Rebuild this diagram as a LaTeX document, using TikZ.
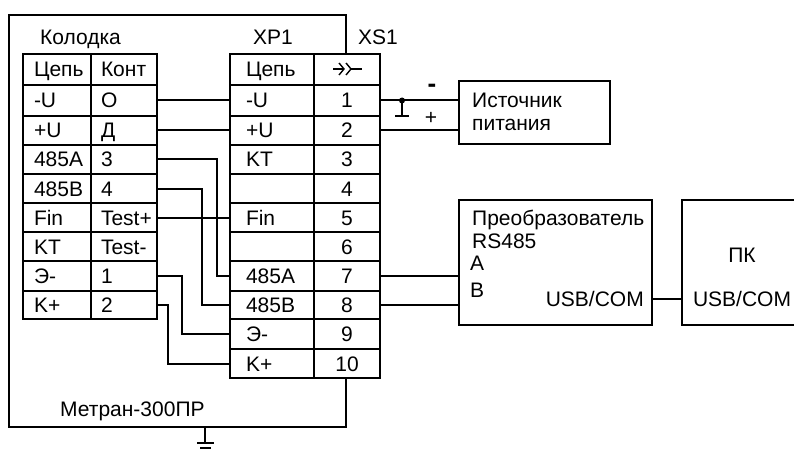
\documentclass[tikz,border=0pt]{standalone}
\usepackage{fontspec}
\setmainfont{Liberation Sans}
\usetikzlibrary{positioning}
\tikzset{
  wire/.style={line width=2pt},
  txt/.style={inner sep=0pt, anchor=base west},
  namecell/.style={draw, line width=2pt, outer sep=0pt, minimum height=#1, text height=15pt, text depth=0pt, align=left},
  numcell/.style={draw, line width=2pt, outer sep=0pt, minimum width=66pt, minimum height=#1, text height=15pt, text depth=0pt, align=center},
  box/.style={draw, line width=2pt, outer sep=0pt}
}
\begin{document}
\begin{tikzpicture}[x=1pt, y=-1pt, font=\fontsize{21}{24}\selectfont]
    \useasboundingbox (0,0) rectangle (794,449);
    % housing
    \coordinate (fr1) at (346,54);
    \coordinate (fr2) at (346,378);
    \coordinate (gnd) at (205,427);
    \draw[wire] (fr1) -- (346,15) -- (9,15) -- (9,427) -- (346,427) -- (fr2);
    \node[txt] (kolodka) at (40,45) {Колодка};
    \node[txt] (xp) at (253,45) {XP1};
    \node[txt] (xs) at (358,45) {XS1};
    \node[txt] (metran) at (60,416) {Метран-300ПР};
    % left table
    \foreach \n/\y/\h/\a/\b in {0/69.5/31/Цепь/Конт, 1/100.5/31/-U/О, 2/130.5/29/+U/Д, 3/159.5/29/485A/3, 4/188.5/29/485B/4, 5/217.5/29/Fin/Test+, 6/246.5/29/KT/Test-, 7/276/30/Э-/1, 8/305/28/K+/2} {
      \node[namecell=\h, text width=46pt, inner xsep=11pt] (la\n) at (57,\y) {\a};
      \node[namecell=\h, text width=46pt, inner xsep=10pt] (lb\n) at (124,\y) {\b};
    }
    % right table
    \foreach \n/\y/\h/\a/\b in {0/69.5/31/Цепь/, 1/100.5/31/-U/1, 2/130.5/29/+U/2, 3/159.5/29/KT/3, 4/188.5/29//4, 5/217.5/29/Fin/5, 6/246.5/29//6, 7/276/30/485A/7, 8/305/28/485B/8, 9/334/30/Э-/9, 10/363.5/29/K+/10} {
      \node[namecell=\h, text width=52pt, inner xsep=16pt] (ra\n) at (272,\y) {\a};
      \node[numcell=\h] (rb\n) at (347,\y) {\b};
    }
    % socket mark
    \draw[line width=1.4pt] (333,69) -- (344,69);
    \draw[line width=1.4pt] (339,63) -- (344,69) -- (339,75);
    \draw[line width=1.4pt] (346,63) -- (351,69) -- (346,75);
    \draw[line width=1.4pt] (351,69) -- (362,69);
    % wires between tables
    \draw[wire] (lb1.east) -- (ra1.west);
    \draw[wire] (lb2.east) -- (ra2.west);
    \draw[wire] (lb3.east) -- +(60,0) |- (ra7.west);
    \draw[wire] (lb4.east) -- +(45,0) |- (ra8.west);
    \draw[wire] (lb5.east) -- (ra5.west);
    \draw[wire] (lb7.east) -- +(25,0) |- (ra9.west);
    \draw[wire] (lb8.east) -- +(11,0) |- (ra10.west);
    % blocks
    \node[box, minimum width=151pt, minimum height=63pt, anchor=north west] (source) at (459,81) {};
    \node[txt] (sourcetxt) at (472,108) {Источник};
    \node[txt] (sourcetxt2) at (472,131) {питания};
    \node[box, minimum width=193pt, minimum height=125pt, anchor=north west] (conv) at (459,200) {};
    \node[txt] (convtxt) at (472,225) {Преобразователь};
    \node[txt] (convtxt2) at (472,248) {RS485};
    \node[txt] (convA) at (470,270) {A};
    \node[txt] (convB) at (470,297) {B};
    \node[txt, anchor=base east] (convusb) at (644,306) {USB/COM};
    \node[box, minimum width=120pt, minimum height=125pt, anchor=north west] (pc) at (682,200) {};
    \node[txt, anchor=base] (pctxt) at (742,262) {ПК};
    \node[txt, anchor=base] (pcusb) at (742,306) {USB/COM};
    % outer wires
    \coordinate (link1) at (652,299);
    \coordinate (link2) at (682,299);
    \draw[wire] (rb1.east) -- (rb1.east -| source.west);
    \draw[wire] (rb2.east) -- (rb2.east -| source.west);
    \draw[wire] (rb7.east) -- (rb7.east -| conv.west);
    \draw[wire] (rb8.east) -- (rb8.east -| conv.west);
    \draw[wire] (link1) -- (link2);
    % screen
    \coordinate (scr) at (402,100.5);
    \fill (scr) circle [radius=3pt];
    \draw[wire] (scr) -- (402,116);
    \draw[wire] (395,116) -- (409,116);
    \node[inner sep=0pt, font=\fontsize{26}{28}\selectfont\bfseries] (minus) at (432,88) {-};
    \node[inner sep=0pt] (plus) at (431,118) {+};
    % ground
    \draw[wire] (gnd) -- (205,443);
    \draw[wire] (197,443) -- (214,443);
    \draw[wire] (200,448) -- (211,448);
\end{tikzpicture}
\end{document}
